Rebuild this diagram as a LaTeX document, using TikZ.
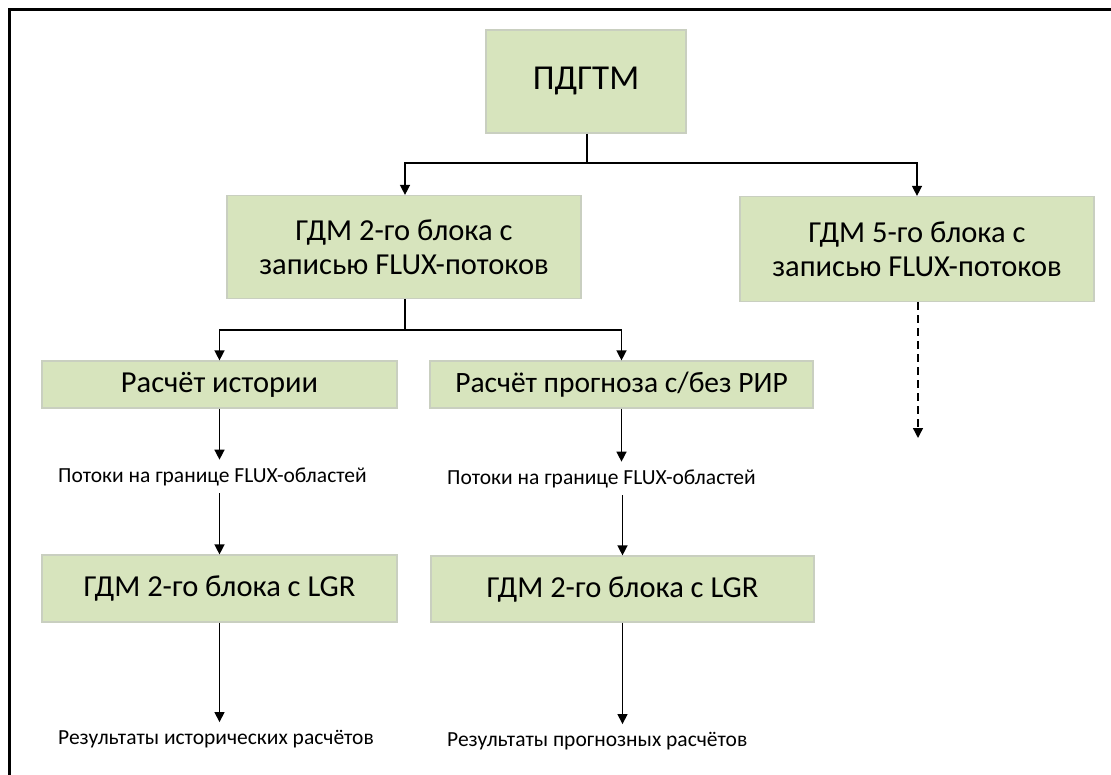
\documentclass[tikz,border=0pt]{standalone}
\usepackage{fontspec}
\setmainfont{Carlito}
\usetikzlibrary{arrows.meta,calc}
\definecolor{boxgreen}{HTML}{D7E4BD}
\definecolor{boxline}{HTML}{C9CFC0}
\begin{document}
\begin{tikzpicture}[x=1pt,y=-1pt,
  box/.style={draw=boxline,line width=1.2pt,fill=boxgreen,align=center,inner sep=0pt,
    font=\fontsize{30.5}{34}\selectfont},
  lbl/.style={anchor=base west,inner xsep=0pt,inner ysep=7.5pt,font=\fontsize{21.5}{24}\selectfont},
  conn/.style={line width=1.4pt,black},
  arr/.style={conn,-{Triangle[length=10pt,width=10pt]}},
]
\useasboundingbox (0,0) rectangle (1111,775);
\draw[line width=3pt] (9.5,9.5) rectangle (1130,800);

\node[box,minimum width=200pt,minimum height=103pt,font=\fontsize{35}{40}\selectfont] (pdgtm) at (586,81.5) {ПДГТМ};
\node[box,minimum width=354pt,minimum height=103pt] (g2) at (404,247) {ГДМ 2-го блока с\\записью FLUX-потоков};
\node[box,minimum width=354pt,minimum height=105pt] (g5) at (917,249) {ГДМ 5-го блока с\\записью FLUX-потоков};
\node[box,minimum width=355pt,minimum height=47pt] (hist) at (219.5,384.5) {Расчёт истории};
\node[box,minimum width=383pt,minimum height=47pt,font=\fontsize{29.5}{34}\selectfont] (prog) at (621.5,384.5) {Расчёт прогноза с/без РИР};
\node[box,minimum width=355pt,minimum height=67pt] (lgr1) at (219.5,588.5) {ГДМ 2-го блока с LGR};
\node[box,minimum width=383pt,minimum height=66pt] (lgr2) at (622.5,589) {ГДМ 2-го блока с LGR};

\node[lbl] (f1) at (58,482) {Потоки на границе FLUX-областей};
\node[lbl] (f2) at (447,484) {Потоки на границе FLUX-областей};
\node[lbl] (r1) at (58,744) {Результаты исторических расчётов};
\node[lbl] (r2) at (447,746) {Результаты прогнозных расчётов};

\coordinate (j1) at (587,163);
\coordinate (j2) at (405,330);
\coordinate (d5) at (918,438);

\draw[conn] (pdgtm.south -| j1) -- (j1);
\draw[arr] (j1) -| (g2.north -| j2);
\draw[arr] (j1) -| (g5.north);
\draw[conn] (g2.south -| j2) -- (j2);
\draw[arr] (j2) -| (hist.north);
\draw[arr] (j2) -| (prog.north);
\draw[arr] (hist.south) -- (hist.south |- f1.north);
\draw[arr] (prog.south) -- (prog.south |- f2.north);
\draw[arr] (lgr1.north |- f1.south) -- (lgr1.north);
\draw[arr] (lgr2.north |- f2.south) -- (lgr2.north);
\draw[arr] (lgr1.south) -- (lgr1.south |- r1.north);
\draw[arr] (lgr2.south) -- (lgr2.south |- r2.north);
\draw[arr,dash pattern=on 8pt off 5pt] (g5.south -| d5) -- (d5);
\end{tikzpicture}
\end{document}
